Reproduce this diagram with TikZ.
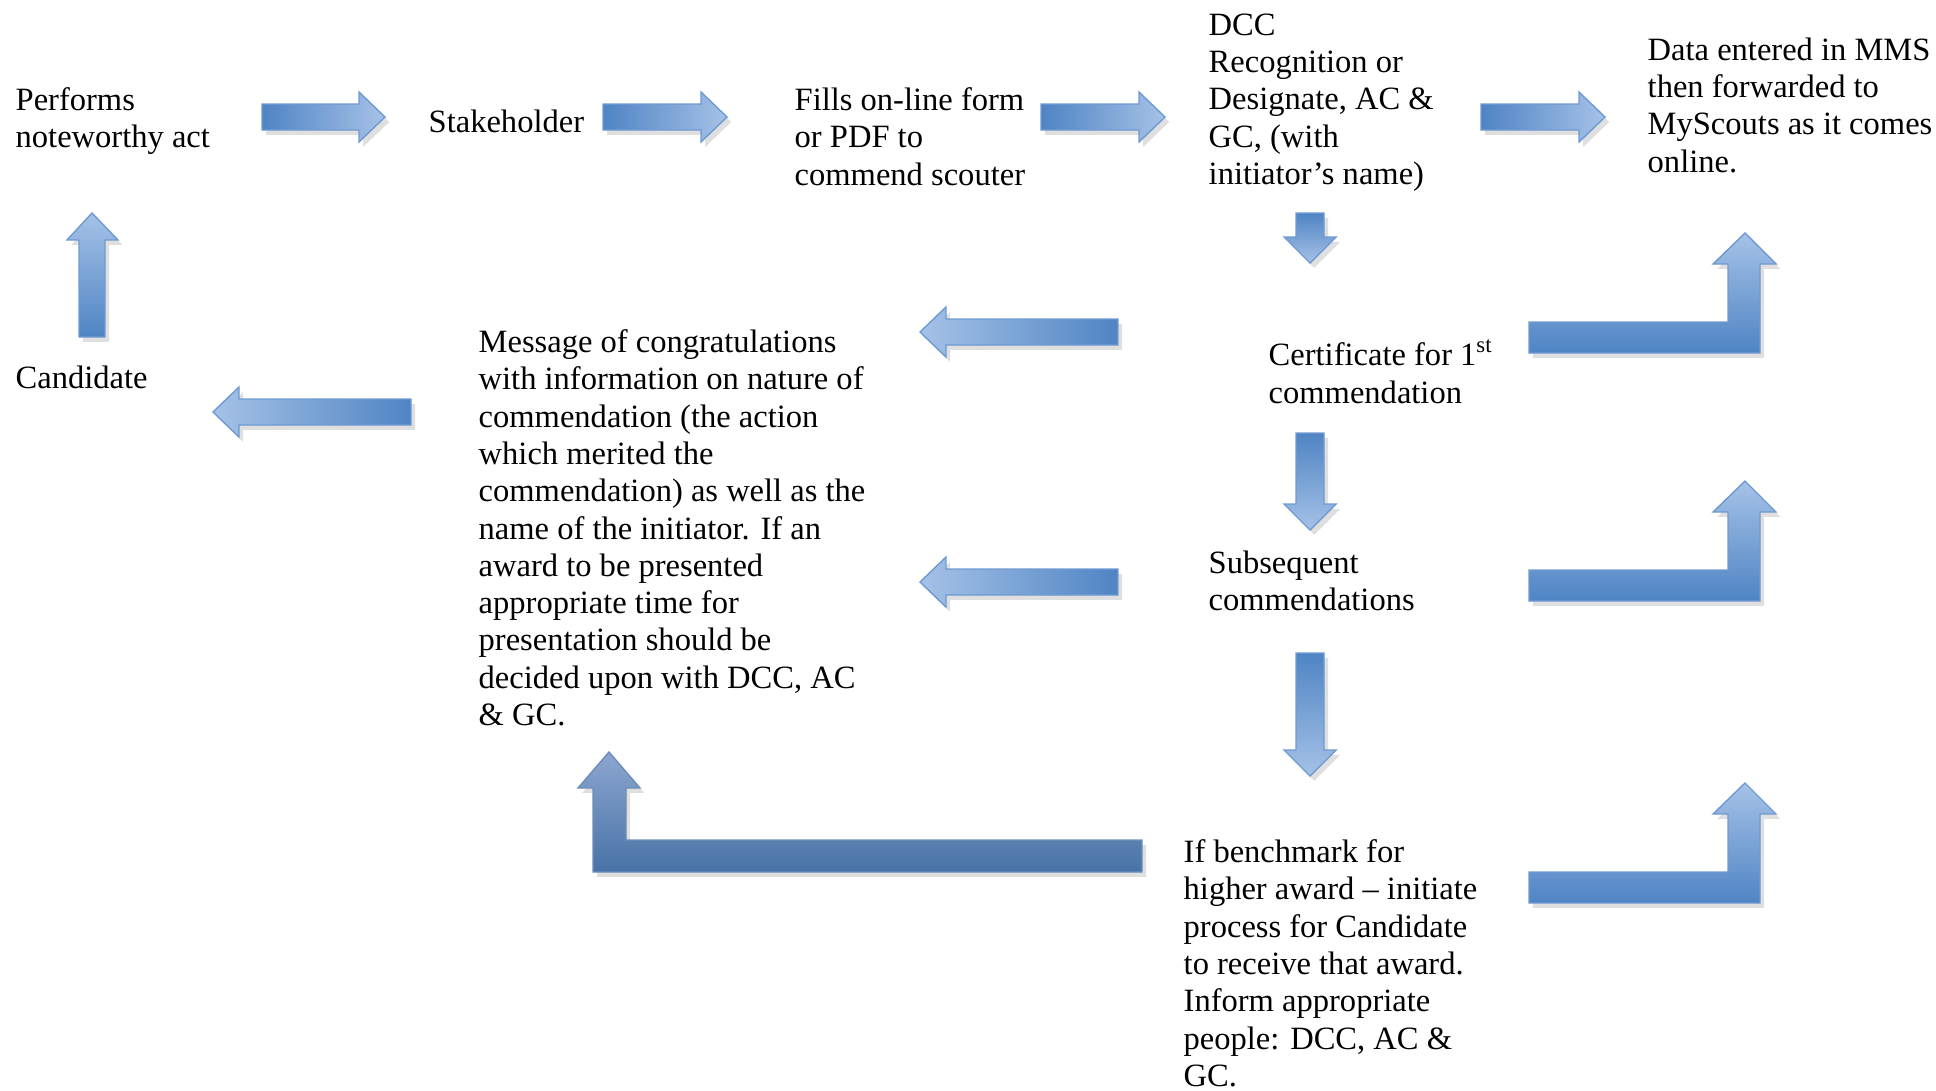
\documentclass[tikz,border=0pt]{standalone}
\usepackage{fontspec}
\setmainfont{Liberation Serif}
\usepackage{xcolor}
\usepackage{tikz}
\usetikzlibrary{shadows}
\definecolor{adark}{HTML}{4F84C4}
\definecolor{alight}{HTML}{A6C2E7}
\definecolor{aline}{HTML}{6F9AD2}
\definecolor{bdark}{HTML}{4872A6}
\definecolor{blight}{HTML}{8DA6D0}

% block arrows: tail, tip, centre line (picture units are px)
\newcommand{\rarr}[3]{\draw[blk,left color=adark,right color=alight]
  (#1,{#3-13}) -- ({#2-26},{#3-13}) -- ({#2-26},{#3-25}) -- (#2,#3) --
  ({#2-26},{#3+25}) -- ({#2-26},{#3+13}) -- (#1,{#3+13}) -- cycle;}
\newcommand{\larr}[3]{\draw[blk,left color=alight,right color=adark]
  (#1,{#3-13}) -- ({#2+26},{#3-13}) -- ({#2+26},{#3-25}) -- (#2,#3) --
  ({#2+26},{#3+25}) -- ({#2+26},{#3+13}) -- (#1,{#3+13}) -- cycle;}
\newcommand{\darr}[3]{\draw[blk,top color=adark,bottom color=alight]
  ({#3-14},#1) -- ({#3-14},{#2-26}) -- ({#3-26},{#2-26}) -- (#3,#2) --
  ({#3+26},{#2-26}) -- ({#3+14},{#2-26}) -- ({#3+14},#1) -- cycle;}
\newcommand{\uarr}[3]{\draw[blk,bottom color=adark,top color=alight]
  ({#3-13},#1) -- ({#3-13},{#2+27}) -- ({#3-25},{#2+27}) -- (#3,#2) --
  ({#3+26},{#2+27}) -- ({#3+13},{#2+27}) -- ({#3+13},#1) -- cycle;}
% bent arrow on the right, #1 = top of the bar
\newcommand{\bentup}[1]{\draw[blk,bottom color=adark,top color=alight]
  (1529,#1) -- (1728,#1) -- (1728,{#1-58}) -- (1713,{#1-58}) -- (1745,{#1-89}) --
  (1776,{#1-58}) -- (1760,{#1-58}) -- (1760,{#1+31}) -- (1529,{#1+31}) -- cycle;}

\begin{document}
\begin{tikzpicture}[
  x=0.01cm,y=-0.01cm,
  txt/.style={anchor=north west,inner sep=0pt,align=left,
              font=\fontsize{9.25}{10.6}\selectfont},
  blk/.style={draw=aline,line width=0.4pt,
              drop shadow={shadow xshift=1.2pt,shadow yshift=-1.4pt,opacity=0.25}}
]
\fill[white] (0,0) rectangle (1936,1090);
\useasboundingbox (0,0) rectangle (1936,1090);

\node[txt] (perf)  at (15,87)    {Performs\\noteworthy act};
\node[txt] (stake) at (428,109)  {Stakeholder};
\node[txt] (fills) at (794,87)   {Fills on-line form\\or PDF to\\commend scouter};
\node[txt] (dcc)   at (1208,13)  {DCC\\Recognition or\\Designate, AC \&\\GC, (with\\initiator's name)};
\node[txt] (data)  at (1647,37)  {Data entered in MMS\\then forwarded to\\MyScouts as it comes\\online.};
\node[txt] (cand)  at (15,365)   {Candidate};
\node[txt] (msg)   at (478,329)  {Message of congratulations\\with information on nature of\\commendation (the action\\which merited the\\commendation) as well as the\\name of the initiator. If an\\award to be presented\\appropriate time for\\presentation should be\\decided upon with DCC, AC\\\& GC.};
\node[txt] (cert)  at (1268,339) {Certificate for 1\textsuperscript{st}\\commendation};
\node[txt] (subs)  at (1208,550) {Subsequent\\commendations};
\node[txt] (bench) at (1183,839) {If benchmark for\\higher award -- initiate\\process for Candidate\\to receive that award.\\Inform appropriate\\people: DCC, AC \&\\GC.};

\rarr{262}{385}{117}
\rarr{603}{727}{117}
\rarr{1041}{1165}{117}
\rarr{1481}{1605}{117}
\uarr{337}{213}{92}
\darr{213}{263}{1310}
\darr{433}{530}{1310}
\darr{653}{776}{1310}
\larr{1118}{920}{332}
\larr{1118}{920}{582}
\larr{411}{213}{412}
\bentup{322}
\bentup{570}
\bentup{872}

\draw[blk,draw=bdark!80,bottom color=bdark,top color=blight]
  (1142,840) -- (626,840) -- (626,788) -- (640,788) -- (609,752) --
  (578,788) -- (593,788) -- (593,872) -- (1142,872) -- cycle;
\end{tikzpicture}
\end{document}
